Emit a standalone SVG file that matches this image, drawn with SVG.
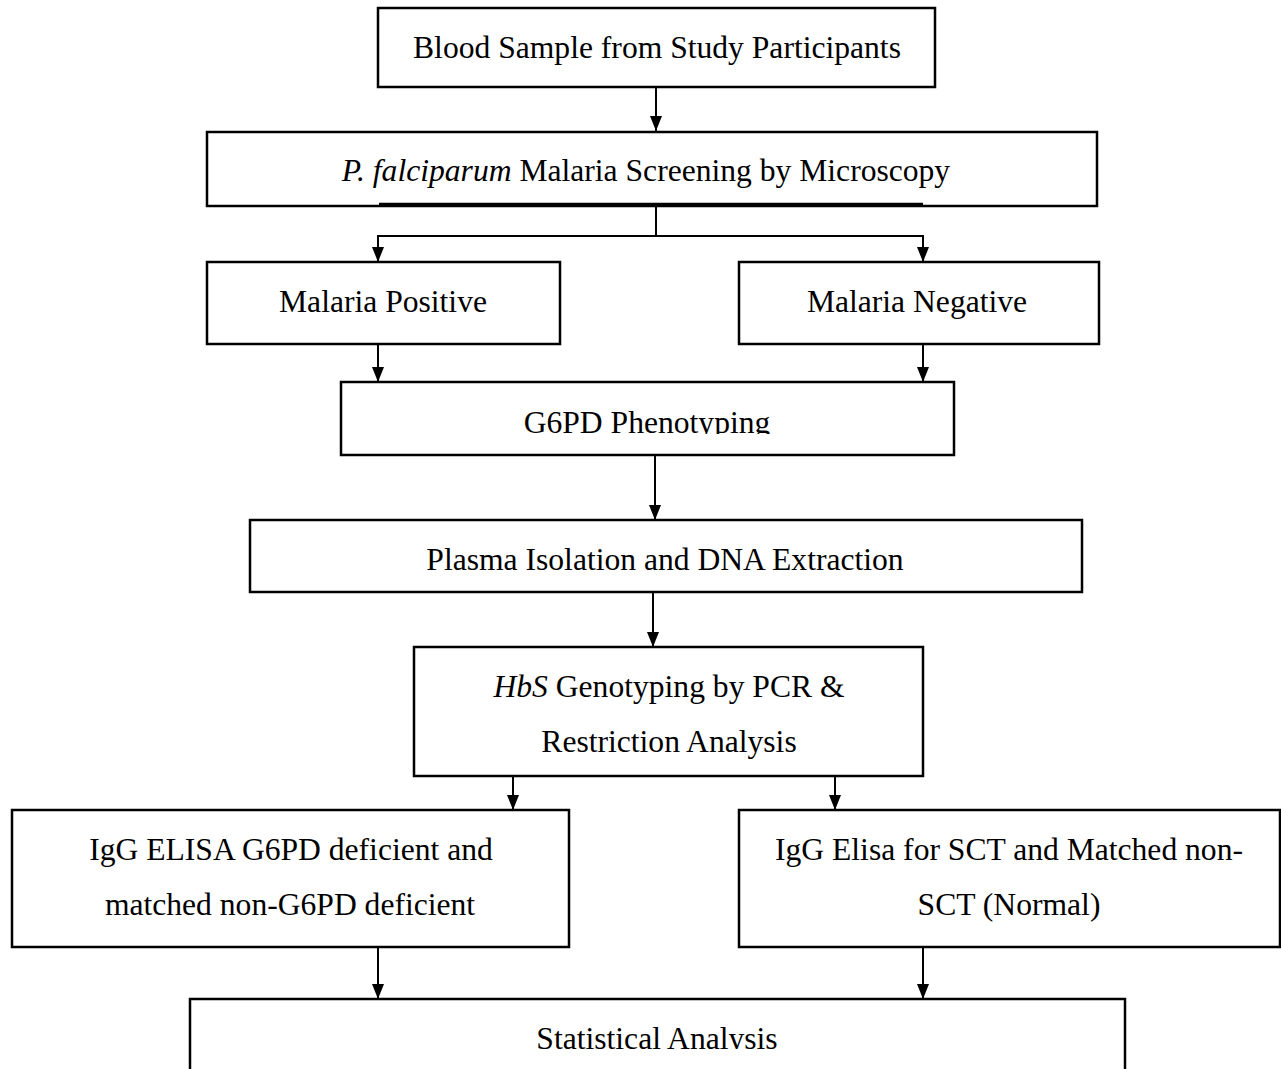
<svg xmlns="http://www.w3.org/2000/svg" width="1281" height="1069" viewBox="0 0 1281 1069">
<style>
.box{fill:#fff;stroke:#000;stroke-width:2.5}
.t{font-family:"Liberation Serif","Times New Roman",serif;font-size:31.6px;fill:#000;text-anchor:middle}
.c{stroke:#000;stroke-width:2;fill:none}
.ca{stroke:#000;stroke-width:2;fill:none;marker-end:url(#ah)}
</style>
<defs>
<marker id="ah" markerUnits="userSpaceOnUse" markerWidth="15" markerHeight="12" refX="15" refY="6" orient="auto">
<path d="M0,0 L15,6 L0,12 z" fill="#000"/>
</marker>
<clipPath id="clipG6"><rect x="341" y="382" width="613" height="52"/></clipPath>
<clipPath id="clipStat"><rect x="190" y="999" width="935" height="50"/></clipPath>
</defs>
<rect width="1281" height="1069" fill="#fff"/>
<g id="connectors">
<line class="ca" x1="656" y1="88" x2="656" y2="131"/>
<line class="c" x1="656" y1="207" x2="656" y2="236"/>
<line class="c" x1="377" y1="236" x2="924" y2="236"/>
<line class="ca" x1="378" y1="236" x2="378" y2="262"/>
<line class="ca" x1="923" y1="236" x2="923" y2="262"/>
<line class="ca" x1="378" y1="344" x2="378" y2="382"/>
<line class="ca" x1="923" y1="344" x2="923" y2="382"/>
<line class="ca" x1="655" y1="456" x2="655" y2="520"/>
<line class="ca" x1="653" y1="593" x2="653" y2="647"/>
<line class="ca" x1="513" y1="777" x2="513" y2="810"/>
<line class="ca" x1="835" y1="777" x2="835" y2="810"/>
<line class="ca" x1="378" y1="948" x2="378" y2="999"/>
<line class="ca" x1="923" y1="948" x2="923" y2="999"/>
</g>
<g id="n1">
<rect class="box" x="378" y="8" width="557" height="79"/>
<text class="t" x="657" y="58">Blood Sample from Study Participants</text>
</g>
<g id="n2">
<rect class="box" x="207" y="132" width="890" height="74"/>
<line x1="379" y1="204" x2="923" y2="204" stroke="#000" stroke-width="2.5"/>
<text class="t" x="646" y="181"><tspan font-style="italic">P. falciparum</tspan> Malaria Screening by Microscopy</text>
</g>
<g id="n3">
<rect class="box" x="207" y="262" width="353" height="82"/>
<text class="t" x="383" y="312">Malaria Positive</text>
</g>
<g id="n4">
<rect class="box" x="739" y="262" width="360" height="82"/>
<text class="t" x="917" y="312">Malaria Negative</text>
</g>
<g id="n5">
<rect class="box" x="341" y="382" width="613" height="73"/>
<text class="t" x="647" y="433" clip-path="url(#clipG6)">G6PD Phenotyping</text>
</g>
<g id="n6">
<rect class="box" x="250" y="520" width="832" height="72"/>
<text class="t" x="665" y="570">Plasma Isolation and DNA Extraction</text>
</g>
<g id="n7">
<rect class="box" x="414" y="647" width="509" height="129"/>
<text class="t" x="669" y="697"><tspan font-style="italic">HbS</tspan> Genotyping by PCR &amp;</text>
<text class="t" x="669" y="752">Restriction Analysis</text>
</g>
<g id="n8">
<rect class="box" x="12" y="810" width="557" height="137"/>
<text class="t" x="291" y="860">IgG ELISA G6PD deficient and</text>
<text class="t" x="290" y="915">matched non-G6PD deficient</text>
</g>
<g id="n9">
<rect class="box" x="739" y="810" width="541" height="137"/>
<text class="t" x="1009" y="860">IgG Elisa for SCT and Matched non-</text>
<text class="t" x="1009" y="915">SCT (Normal)</text>
</g>
<g id="n10">
<rect class="box" x="190" y="999" width="935" height="90"/>
<text class="t" x="657" y="1049" clip-path="url(#clipStat)">Statistical Analysis</text>
</g>
</svg>
